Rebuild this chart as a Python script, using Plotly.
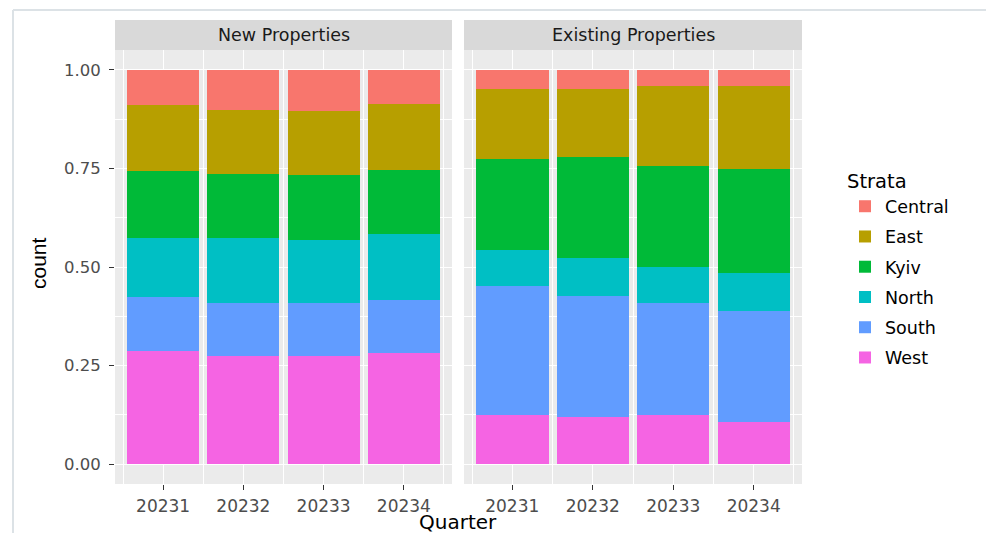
import plotly.graph_objects as go

quarters = ["20231", "20232", "20233", "20234"]
strata = ["Central", "East", "Kyiv", "North", "South", "West"]
colors = ["#F8766D", "#B79F00", "#00BA38", "#00BFC4", "#619CFF", "#F564E3"]
panels = ["New Properties", "Existing Properties"]

# proportions per stratum, per quarter
new_central = [0.090, 0.103, 0.105, 0.087]
new_east    = [0.167, 0.161, 0.162, 0.166]
new_kyiv    = [0.170, 0.163, 0.164, 0.163]
new_north   = [0.148, 0.163, 0.159, 0.168]
new_south   = [0.139, 0.135, 0.135, 0.135]
new_west    = [0.286, 0.275, 0.275, 0.281]

ex_central = [0.048, 0.048, 0.040, 0.041]
ex_east    = [0.177, 0.172, 0.204, 0.210]
ex_kyiv    = [0.232, 0.258, 0.256, 0.265]
ex_north   = [0.091, 0.095, 0.092, 0.095]
ex_south   = [0.327, 0.308, 0.283, 0.281]
ex_west    = [0.125, 0.119, 0.125, 0.108]

new_vals = [new_central, new_east, new_kyiv, new_north, new_south, new_west]
ex_vals = [ex_central, ex_east, ex_kyiv, ex_north, ex_south, ex_west]

W, H = 986, 533
FONT = "DejaVu Sans"

fig = go.Figure()
# bottom of stack first: West ... Central
for i in reversed(range(len(strata))):
    for p, (vals, xa, ya) in enumerate([(new_vals, "x", "y"), (ex_vals, "x2", "y2")]):
        fig.add_trace(go.Bar(
            x=quarters, y=vals[i], name=strata[i],
            marker=dict(color=colors[i], line=dict(width=0)),
            xaxis=xa, yaxis=ya, legendgroup=strata[i], legendrank=i + 1,
            showlegend=(p == 0), width=0.9,
        ))

def px_x(v):
    return v / W

def px_y(v):
    return 1 - v / H

plot_top, plot_bot = 50, 484
ydom = [px_y(plot_bot), px_y(plot_top)]

xcommon = dict(
    type="category", categoryorder="array", categoryarray=quarters,
    range=[-0.6, 3.6], showgrid=True, gridcolor="white", gridwidth=1.3,
    ticks="outside", ticklen=5, tickwidth=1.2, tickcolor="#333333",
    tickfont=dict(family=FONT, size=17, color="#4D4D4D"),
    ticklabelstandoff=2,
    minor=dict(tickmode="array", tickvals=[-0.5, 0.5, 1.5, 2.5, 3.5],
               showgrid=True, gridcolor="white", gridwidth=0.6, ticks=""),
    zeroline=False, showline=False, automargin=False, fixedrange=True,
)
ycommon = dict(
    range=[-0.05, 1.05], tickvals=[0, 0.25, 0.5, 0.75, 1.0], tickformat=".2f",
    showgrid=True, gridcolor="white", gridwidth=1.3,
    minor=dict(tickvals=[0.125, 0.375, 0.625, 0.875], tickmode="array",
               showgrid=True, gridcolor="white", gridwidth=0.6, ticks=""),
    zeroline=False, showline=False, domain=ydom, automargin=False, fixedrange=True,
)

fig.update_layout(
    width=W, height=H, barmode="stack", bargap=0.1,
    margin=dict(l=0, r=0, t=0, b=0),
    paper_bgcolor="white", plot_bgcolor="#EBEBEB",
    xaxis=dict(xcommon, domain=[px_x(115), px_x(452)], anchor="y"),
    xaxis2=dict(xcommon, domain=[px_x(464), px_x(802)], anchor="y2"),
    yaxis=dict(ycommon, anchor="x", ticks="outside", ticklen=5, tickwidth=1.2,
               tickcolor="#333333", ticklabelstandoff=5,
               tickfont=dict(family=FONT, size=16.5, color="#4D4D4D")),
    yaxis2=dict(ycommon, anchor="x2", matches="y", showticklabels=False, ticks=""),
    legend=dict(
        title=dict(text="Strata", font=dict(family=FONT, size=19.5, color="black")),
        font=dict(family=FONT, size=17.5, color="black"),
        x=px_x(845), y=px_y(163), xanchor="left", yanchor="top",
        traceorder="grouped", tracegroupgap=4.5,
        bgcolor="rgba(0,0,0,0)", itemclick=False, itemdoubleclick=False,
    ),
    showlegend=True,
)

shapes = []
annotations = []
for p, xa in enumerate(["x", "x2"]):
    shapes.append(dict(type="rect", xref=f"{xa} domain", yref="paper",
                       x0=0, x1=1, y0=px_y(plot_top), y1=px_y(20),
                       fillcolor="#D9D9D9", line=dict(width=0), layer="below"))
    annotations.append(dict(text=panels[p], xref=f"{xa} domain", yref="paper",
                            x=0.5, y=px_y(35.5), xanchor="center", yanchor="middle",
                            showarrow=False,
                            font=dict(family=FONT, size=17.5, color="#1A1A1A")))

# viewer frame lines
shapes.append(dict(type="line", xref="paper", yref="paper",
                   x0=px_x(13), x1=1, y0=px_y(10), y1=px_y(10),
                   line=dict(color="#DCE2E6", width=2)))
shapes.append(dict(type="line", xref="paper", yref="paper",
                   x0=px_x(13), x1=px_x(13), y0=px_y(10), y1=0,
                   line=dict(color="#DCE2E6", width=2)))

annotations.append(dict(text="Quarter", xref="paper", yref="paper",
                        x=px_x(458), y=px_y(522), xanchor="center", yanchor="middle",
                        showarrow=False, font=dict(family=FONT, size=20, color="black")))
annotations.append(dict(text="count", xref="paper", yref="paper",
                        x=px_x(39), y=px_y(263), xanchor="center", yanchor="middle",
                        textangle=-90, showarrow=False,
                        font=dict(family="Liberation Sans", size=21, color="black")))

fig.update_layout(shapes=shapes, annotations=annotations)

fig.write_html("out.html", config={"displayModeBar": False},
               post_script="document.body.style.margin='0';document.body.style.overflow='hidden';")
